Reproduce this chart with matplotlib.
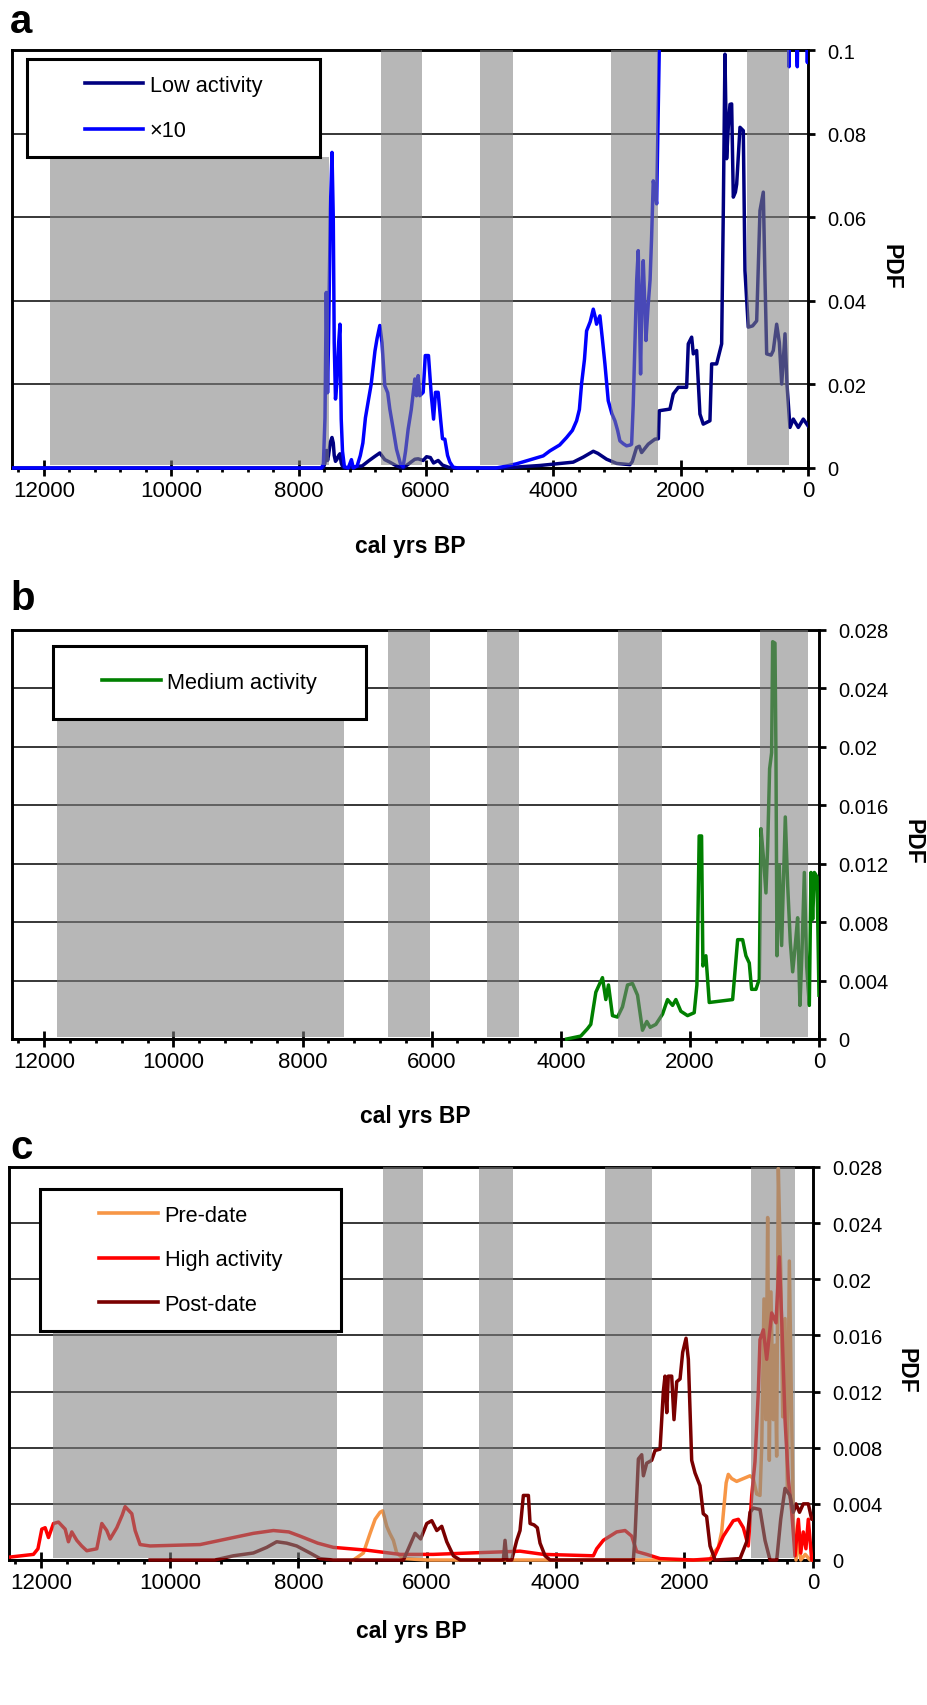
import matplotlib
matplotlib.use('Agg')
import matplotlib.pyplot as plt
from matplotlib import font_manager
from matplotlib.lines import Line2D
from matplotlib.patches import Rectangle
from matplotlib.transforms import Bbox, TransformedBbox

# ---------------- data ----------------
x_major = [0, 2000, 4000, 6000, 8000, 10000, 12000]
x_labels = ['0', '2000', '4000', '6000', '8000', '10000', '12000']
x_minor = list(range(0, 12401, 400))

ya_ticks = [0, 0.02, 0.04, 0.06, 0.08, 0.1]
ya_labels = ['0', '0.02', '0.04', '0.06', '0.08', '0.1']
ybc_ticks = [0, 0.004, 0.008, 0.012, 0.016, 0.02, 0.024, 0.028]
ybc_labels = ['0', '0.004', '0.008', '0.012', '0.016', '0.02', '0.024', '0.028']

# panel a : low activity
low_yr = [12500, 7640, 7610, 7585, 7565, 7545, 7530, 7500, 7475, 7455, 7440, 7420, 7400,
          7370, 7350, 7330, 7310, 7280, 7000, 6900, 6800, 6724, 6646, 6567, 6462, 6358,
          6279, 6174, 6122, 6043, 5990, 5930, 5880, 5808, 5740, 5650, 5572, 4800, 4211,
          3687, 3530, 3372, 3300, 3163, 3006, 2797, 2760, 2692, 2650, 2613, 2509, 2404,
          2350, 2336, 2168, 2116, 2037, 1906, 1880, 1827, 1801, 1749, 1697, 1645, 1540,
          1513, 1435, 1356, 1330, 1304, 1278, 1252, 1225, 1199, 1173, 1140, 1120, 1068,
          1016, 990, 938, 870, 806, 754, 702, 676, 649, 580, 545, 492, 450, 413, 361,
          330, 283, 231, 152, 74, 0]
low_val = [0, 0, 0.0001, 0.0012, 0.0042, 0.0018, 0.003, 0.0062, 0.0073, 0.006, 0.003,
           0.0016, 0.002, 0.003, 0.0034, 0.0012, 0.0004, 0, 0.0005, 0.0017, 0.0028, 0.0036,
           0.002, 0.0014, 0.0005, 0, 0.0009, 0.0021, 0.0022, 0.0018, 0.0027, 0.0025, 0.0012,
           0.0018, 0.0007, 0.0002, 0, 0, 0.0006, 0.0014, 0.0026, 0.004, 0.0035, 0.0021,
           0.0011, 0.0008, 0.0015, 0.0049, 0.0052, 0.0037, 0.0057, 0.0069, 0.007, 0.0137,
           0.0141, 0.0177, 0.0193, 0.0193, 0.0297, 0.0313, 0.0273, 0.0281, 0.0129, 0.0105,
           0.0113, 0.0249, 0.0249, 0.0297, 0.0616, 0.099, 0.074, 0.0815, 0.087, 0.0871,
           0.0648, 0.066, 0.0679, 0.0815, 0.0807, 0.0472, 0.0337, 0.034, 0.0352, 0.0616,
           0.066, 0.0456, 0.0273, 0.027, 0.0281, 0.0344, 0.03, 0.0201, 0.0321, 0.02,
           0.0097, 0.0117, 0.0097, 0.0117, 0.0101]

# panel a : x10 curve (values above 0.1 run off the top of the axis)
x10_yr = [12500, 7640, 7610, 7585, 7565, 7545, 7530, 7500, 7475, 7455, 7440, 7420, 7400,
          7370, 7350, 7330, 7310, 7280, 7220, 7170, 7140, 7080, 7030, 6990, 6950, 6900,
          6860, 6800, 6767, 6724, 6690, 6646, 6600, 6567, 6510, 6462, 6400, 6358, 6320,
          6279, 6230, 6174, 6148, 6122, 6096, 6043, 6010, 5960, 5915, 5880, 5850, 5808,
          5770, 5740, 5703, 5660, 5624, 5572, 5500, 4900, 4790, 4577, 4400, 4158, 4053,
          3900, 3791, 3700, 3634, 3590, 3556, 3510, 3477, 3420, 3372, 3340, 3320, 3268,
          3230, 3189, 3137, 3080, 3032, 2990, 2954, 2900, 2849, 2790, 2770, 2745, 2718,
          2690, 2666, 2645, 2629, 2610, 2587, 2565, 2545, 2509, 2480, 2456, 2430, 2400,
          2377, 2336, 2320, 340, 305, 298, 290, 240, 200, 168, 160, 100, 40, 10, 0]
x10_val = [0, 0, 0.001, 0.012, 0.042, 0.018, 0.03, 0.062, 0.0755, 0.06, 0.03, 0.0165,
           0.02, 0.03, 0.0344, 0.0117, 0.004, 0.0003, 0, 0.002, 0, 0.0005, 0.003, 0.006,
           0.012, 0.0165, 0.02, 0.028, 0.031, 0.0341, 0.03, 0.0197, 0.018, 0.0141, 0.009,
           0.0045, 0.001, 0.0003, 0.004, 0.0093, 0.014, 0.0213, 0.0173, 0.0221, 0.0173,
           0.0181, 0.0269, 0.0269, 0.0173, 0.0117, 0.0181, 0.0181, 0.0117, 0.007, 0.0069,
           0.003, 0.0014, 0.0002, 0, 0, 0.0003, 0.001, 0.0018, 0.0029, 0.0041, 0.0055,
           0.0073, 0.009, 0.0113, 0.014, 0.0201, 0.026, 0.0328, 0.035, 0.038, 0.036,
           0.0344, 0.0364, 0.031, 0.0249, 0.0161, 0.013, 0.0113, 0.009, 0.0065, 0.0058,
           0.0053, 0.0055, 0.0057, 0.015, 0.0297, 0.045, 0.052, 0.035, 0.0225, 0.04,
           0.0496, 0.04, 0.0305, 0.0392, 0.045, 0.0552, 0.0687, 0.066, 0.0632, 0.0998,
           0.14, 0.13, 0.105, 0.096, 0.105, 0.117, 0.11, 0.096, 0.105, 0.115, 0.11,
           0.097, 0.101]

# panel b : medium activity
med_yr = [3907, 3690, 3587, 3535, 3457, 3406, 3354, 3302, 3261, 3199, 3121, 3044, 2966,
          2889, 2811, 2734, 2667, 2615, 2527, 2424, 2346, 2268, 2217, 2140, 2036, 1933,
          1891, 1856, 1819, 1798, 1752, 1700, 1519, 1338, 1260, 1183, 1132, 1080, 1044,
          977, 925, 899, 858, 822, 795, 765, 734, 718, 682, 667, 651, 615, 579, 522, 485,
          444, 408, 372, 331, 295, 264, 227, 191, 150, 124, 98, 72, 31, 0]
med_val = [0, 0.0002, 0.0007, 0.001, 0.0032, 0.0037, 0.0042, 0.0027, 0.0037, 0.0016,
           0.0015, 0.0022, 0.0037, 0.0038, 0.003, 0.0006, 0.0012, 0.0008, 0.001, 0.0017,
           0.0027, 0.0023, 0.0027, 0.0019, 0.0016, 0.0018, 0.0037, 0.0139, 0.0139, 0.005,
           0.0057, 0.0025, 0.0026, 0.0027, 0.0068, 0.0068, 0.0057, 0.0052, 0.0034, 0.0034,
           0.0041, 0.0144, 0.0123, 0.01, 0.0132, 0.0185, 0.0196, 0.0272, 0.0271, 0.0196,
           0.0057, 0.0119, 0.0064, 0.0152, 0.0105, 0.0066, 0.0046, 0.0062, 0.0083, 0.0023,
           0.0059, 0.0114, 0.005, 0.0023, 0.0114, 0.0082, 0.0114, 0.0111, 0.003]

# panel c : pre-date
pre_yr = [7145, 6990, 6886, 6808, 6731, 6690, 6627, 6580, 6524, 6472, 6368, 6000, 1600,
          1550, 1472, 1420, 1350, 1317, 1264, 1187, 1083, 979, 928, 875, 824, 797, 762,
          731, 705, 679, 653, 617, 591, 565, 539, 502, 471, 435, 399, 368, 332, 306, 264,
          228, 190, 120, 47, 0]
pre_val = [0, 0.0005, 0.0019, 0.0029, 0.0034, 0.0035, 0.0024, 0.0019, 0.0014, 0.0005,
           0.0001, 0, 0, 0.0005, 0.0009, 0.002, 0.0055, 0.0061, 0.0058, 0.0056, 0.0058,
           0.006, 0.0058, 0.0047, 0.0046, 0.0081, 0.0186, 0.01, 0.0244, 0.0071, 0.0191,
           0.01, 0.0153, 0.0074, 0.0279, 0.0206, 0.0102, 0.0172, 0.0052, 0.0213, 0.0102,
           0.0029, 0, 0.0016, 0, 0.0004, 0, 0]

# panel c : high activity
high_yr = [12500, 12120, 12050, 11990, 11938, 11886, 11809, 11731, 11627, 11576, 11524,
           11446, 11370, 11291, 11135, 11057, 10980, 10928, 10824, 10740, 10695, 10591,
           10539, 10462, 10306, 9529, 9011, 8700, 8389, 8150, 7975, 7700, 7457, 6938,
           6420, 5902, 5332, 4710, 4555, 4192, 3415, 3363, 3260, 3052, 2922, 2818, 2741,
           2585, 2378, 1861, 1550, 1394, 1239, 1161, 1083, 1006, 953, 902, 850, 824, 772,
           720, 642, 575, 524, 487, 435, 384, 332, 280, 228, 190, 151, 110, 73, 20, 0]
high_val = [0.0002, 0.0004, 0.0008, 0.0022, 0.0023, 0.0016, 0.0026, 0.0027, 0.0022,
            0.0013, 0.002, 0.0014, 0.001, 0.00066, 0.0008, 0.0026, 0.0021, 0.0015, 0.0023,
            0.0032, 0.0038, 0.0033, 0.0021, 0.0011, 0.001, 0.0011, 0.0016, 0.0019, 0.0021,
            0.002, 0.0017, 0.0012, 0.0009, 0.0007, 0.0004, 0.0004, 0.0005, 0.0006, 0.00063,
            0.0004, 0.0003, 0.0008, 0.0014, 0.002, 0.0021, 0.0017, 0.0006, 0.0004, 0.0001,
            0, 0.0001, 0.0017, 0.0028, 0.0029, 0.0023, 0.001, 0.0046, 0.007, 0.012, 0.0157,
            0.0164, 0.0143, 0.0176, 0.0169, 0.0216, 0.0172, 0.01, 0.0058, 0.0035, 0.0003,
            0.0029, 0.0005, 0.002, 0.0008, 0.0029, 0, 0]

# panel c : post-date
post_yr = [10306, 9300, 9011, 8700, 8493, 8338, 8182, 8027, 7820, 7664, 7461, 6367, 6291,
           6187, 6100, 6005, 5927, 5849, 5772, 5694, 5591, 5487, 4814, 4788, 4760, 4684,
           4606, 4555, 4503, 4425, 4399, 4337, 4286, 4244, 4166, 4088, 2793, 2767, 2715,
           2663, 2637, 2585, 2508, 2456, 2378, 2327, 2301, 2274, 2250, 2197, 2161, 2119,
           2067, 2026, 1974, 1938, 1886, 1834, 1757, 1706, 1654, 1601, 1523, 1135, 1083,
           1031, 979, 928, 824, 746, 668, 564, 502, 435, 358, 306, 264, 210, 151, 73, 20, 0]
post_val = [0, 0, 0.0003, 0.0005, 0.0009, 0.0013, 0.0012, 0.001, 0.0005, 0.0001, 0, 0,
            0.0008, 0.0019, 0.0015, 0.0026, 0.0028, 0.0021, 0.0024, 0.0013, 0.0003, 0, 0,
            0.0014, 0, 0, 0.0014, 0.0021, 0.0046, 0.0046, 0.0026, 0.0025, 0.0023, 0.0012,
            0.0003, 0, 0, 0.0017, 0.0072, 0.0075, 0.006, 0.0069, 0.0071, 0.0078, 0.0079,
            0.012, 0.0131, 0.0105, 0.0131, 0.0131, 0.01, 0.0127, 0.0129, 0.0148, 0.0158,
            0.0143, 0.0071, 0.0062, 0.0053, 0.0033, 0.0031, 0.001, 0, 0.0001, 0.0007,
            0.0013, 0.0034, 0.0037, 0.0036, 0.0014, 0, 0, 0.0029, 0.0051, 0.0046, 0.0034,
            0.004, 0.0034, 0.004, 0.004, 0.0029, 0.0029]

# shaded intervals (cal yrs BP)
bands_a_start = [11900, 6700, 5150, 3100, 960]
bands_a_end = [7520, 6060, 4640, 2360, 300]
bands_b_start = [11800, 6680, 5150, 3120, 920]
bands_b_end = [7360, 6020, 4640, 2430, 170]
bands_c_start = [11810, 6680, 5190, 3230, 960]
bands_c_end = [7400, 6060, 4660, 2500, 280]

# ---------------- styling / layout ----------------
W, H = 927, 1706
SANS = ['Liberation Sans', 'DejaVu Sans']
_installed = {f.name for f in font_manager.fontManager.ttflist}
if 'Liberation Sans Narrow' in _installed:
    NARROW = ['Liberation Sans Narrow', 'Liberation Sans', 'DejaVu Sans']
    YT_SIZE = 16
else:
    NARROW = SANS
    YT_SIZE = 14.5
BAND_COLOR = '#818181'
BAND_ALPHA = 0.573
LW = 2.5

fig = plt.figure(figsize=(W / 100, H / 100), dpi=100)


def frac_rect(l, t, r, b):
    return [l / W, 1 - b / H, (r - l) / W, (b - t) / H]


def setup_axes(px, ymax, yticks, ylabels):
    ax = fig.add_axes(frac_rect(*px))
    ax.set_xlim(12500, 0)
    ax.set_ylim(0, ymax)
    ax.set_xticks(x_major)
    ax.set_xticklabels(x_labels, family=SANS, fontsize=16)
    ax.set_xticks(x_minor, minor=True)
    ax.yaxis.tick_right()
    ax.set_yticks(yticks)
    ax.set_yticklabels(ylabels, family=NARROW, fontsize=YT_SIZE)
    ax.tick_params(axis='x', which='major', direction='inout', length=11, width=2, pad=3)
    ax.tick_params(axis='x', which='minor', direction='out', length=3, width=2)
    ax.tick_params(axis='y', which='major', direction='out', length=5, width=2, pad=9,
                   left=False, right=True)
    ax.yaxis.grid(True, color='black', lw=1.1)
    ax.set_axisbelow(True)
    for s in ax.spines.values():
        s.set_linewidth(2.1)
        s.set_color('black')
    return ax


def draw(ax, xs, ys, color):
    ln, = ax.plot(xs, ys, color=color, lw=LW, zorder=2.6, solid_joinstyle='round')
    ln.set_clip_path(None)
    ln.set_clip_box(TransformedBbox(Bbox([[0, -0.012], [1, 1]]), ax.transAxes))
    return ln


def bands(ax, starts, ends, first_top):
    for i, (s, e) in enumerate(zip(starts, ends)):
        ax.axvspan(s, e, ymin=0.006, ymax=first_top if i == 0 else 1.0,
                   facecolor=BAND_COLOR, alpha=BAND_ALPHA, lw=0, zorder=3)


def legend_box(ax, axpx, boxpx, entries, spacing):
    l, t, r, b = axpx
    bl, bt, br, bb = boxpx
    fx0 = (bl - l) / (r - l)
    fy0 = (b - bb) / (b - t)
    fw = (br - bl) / (r - l)
    fh = (bb - bt) / (b - t)
    ax.add_patch(Rectangle((fx0, fy0), fw, fh, transform=ax.transAxes,
                           facecolor='white', edgecolor='black', lw=2.2,
                           zorder=10, clip_on=False))
    handles = [Line2D([], [], color=c, lw=2.6) for c, _ in entries]
    labels = [lab for _, lab in entries]
    leg = ax.legend(handles, labels, loc='center',
                    bbox_to_anchor=(fx0 + fw / 2, fy0 + fh / 2),
                    bbox_transform=ax.transAxes, frameon=False,
                    prop={'family': SANS, 'size': 15.7}, handlelength=2.7,
                    handletextpad=0.3, labelspacing=spacing, borderpad=0,
                    borderaxespad=0)
    leg.set_zorder(11)


def labels(letter, letter_y, axpx, xlab_y, pdf_x, pdf_y):
    fig.text(10 / W, 1 - letter_y / H, letter, fontsize=29, fontweight='bold',
             family=SANS, ha='left', va='baseline')
    cx = (axpx[0] + axpx[2]) / 2
    fig.text(cx / W, 1 - xlab_y / H, 'cal yrs BP', fontsize=16.5, fontweight='bold',
             family=SANS, ha='center', va='center')
    fig.text(pdf_x / W, 1 - pdf_y / H, 'PDF', fontsize=16.5, fontweight='bold',
             family=SANS, ha='center', va='center', rotation=270)


# ---- panel a ----
pa = (12, 51, 808, 469)
axa = setup_axes(pa, 0.1, ya_ticks, ya_labels)
draw(axa, low_yr, low_val, '#000080')
draw(axa, x10_yr, x10_val, '#0000ff')
bands(axa, bands_a_start, bands_a_end, 0.744)
legend_box(axa, pa, (27, 60, 320, 158),
           [('#000080', 'Low activity'), ('#0000ff', '×10')], 1.12)
labels('a', 33, pa, 546, 891, 267)

# ---- panel b ----
pb = (12, 631, 819, 1040)
axb = setup_axes(pb, 0.028, ybc_ticks, ybc_labels)
draw(axb, med_yr, med_val, '#008000')
bands(axb, bands_b_start, bands_b_end, 0.79)
legend_box(axb, pb, (53, 647, 366, 720), [('#008000', 'Medium activity')], 1.12)
labels('b', 610, pb, 1117, 913, 842)

# ---- panel c ----
pc = (9, 1168, 813, 1561)
axc = setup_axes(pc, 0.028, ybc_ticks, ybc_labels)
draw(axc, pre_yr, pre_val, '#f79646')
draw(axc, high_yr, high_val, '#ff0000')
draw(axc, post_yr, post_val, '#7a0000')
bands(axc, bands_c_start, bands_c_end, 0.58)
legend_box(axc, pc, (40, 1190, 341, 1332),
           [('#f79646', 'Pre-date'), ('#ff0000', 'High activity'), ('#7a0000', 'Post-date')],
           1.08)
labels('c', 1159, pc, 1632, 906, 1371)

fig.savefig('out.png', dpi=100)
